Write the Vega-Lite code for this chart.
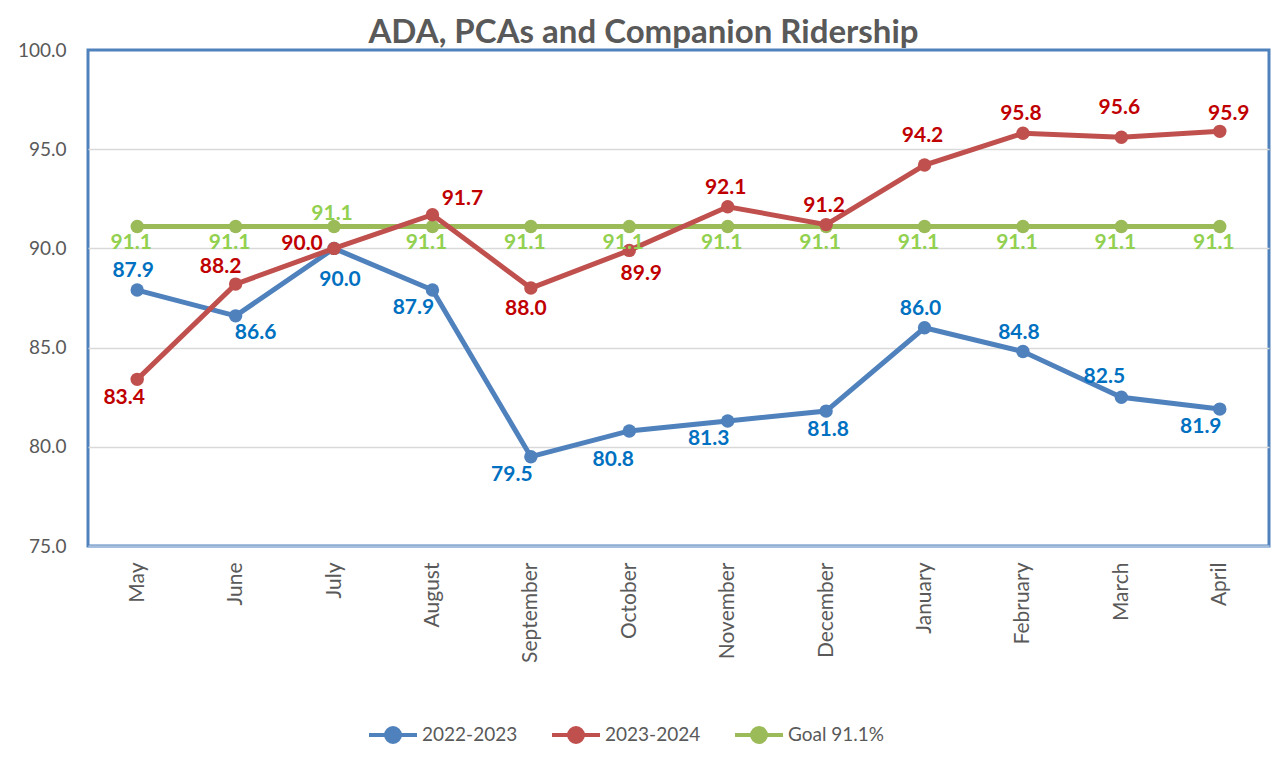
{
  "$schema": "https://vega.github.io/schema/vega-lite/v6.json",
  "width": 1181,
  "height": 496,
  "autosize": {"type": "none"},
  "padding": {"left": 88, "top": 50, "right": 6, "bottom": 227},
  "background": "white",
  "config": {"view": {"stroke": "#4F81BD", "strokeWidth": 3}, "font": "Lato"},
  "title": {"text": "ADA, PCAs and Companion Ridership", "font": "Lato", "fontSize": 33, "fontWeight": "bold", "color": "#595959", "anchor": "middle", "frame": "group", "dx": -35, "dy": 40, "offset": 5, "baseline": "alphabetic"},
  "data": {"values": [
    {"month": "May", "series": "2022-2023", "value": 87.9},
    {"month": "June", "series": "2022-2023", "value": 86.6},
    {"month": "July", "series": "2022-2023", "value": 90.0},
    {"month": "August", "series": "2022-2023", "value": 87.9},
    {"month": "September", "series": "2022-2023", "value": 79.5},
    {"month": "October", "series": "2022-2023", "value": 80.8},
    {"month": "November", "series": "2022-2023", "value": 81.3},
    {"month": "December", "series": "2022-2023", "value": 81.8},
    {"month": "January", "series": "2022-2023", "value": 86.0},
    {"month": "February", "series": "2022-2023", "value": 84.8},
    {"month": "March", "series": "2022-2023", "value": 82.5},
    {"month": "April", "series": "2022-2023", "value": 81.9},
    {"month": "May", "series": "2023-2024", "value": 83.4},
    {"month": "June", "series": "2023-2024", "value": 88.2},
    {"month": "July", "series": "2023-2024", "value": 90.0},
    {"month": "August", "series": "2023-2024", "value": 91.7},
    {"month": "September", "series": "2023-2024", "value": 88.0},
    {"month": "October", "series": "2023-2024", "value": 89.9},
    {"month": "November", "series": "2023-2024", "value": 92.1},
    {"month": "December", "series": "2023-2024", "value": 91.2},
    {"month": "January", "series": "2023-2024", "value": 94.2},
    {"month": "February", "series": "2023-2024", "value": 95.8},
    {"month": "March", "series": "2023-2024", "value": 95.6},
    {"month": "April", "series": "2023-2024", "value": 95.9},
    {"month": "May", "series": "Goal 91.1%", "value": 91.1},
    {"month": "June", "series": "Goal 91.1%", "value": 91.1},
    {"month": "July", "series": "Goal 91.1%", "value": 91.1},
    {"month": "August", "series": "Goal 91.1%", "value": 91.1},
    {"month": "September", "series": "Goal 91.1%", "value": 91.1},
    {"month": "October", "series": "Goal 91.1%", "value": 91.1},
    {"month": "November", "series": "Goal 91.1%", "value": 91.1},
    {"month": "December", "series": "Goal 91.1%", "value": 91.1},
    {"month": "January", "series": "Goal 91.1%", "value": 91.1},
    {"month": "February", "series": "Goal 91.1%", "value": 91.1},
    {"month": "March", "series": "Goal 91.1%", "value": 91.1},
    {"month": "April", "series": "Goal 91.1%", "value": 91.1}
  ]},
  "encoding": {
    "x": {"field": "month", "type": "ordinal",
      "sort": ["May", "June", "July", "August", "September", "October", "November", "December", "January", "February", "March", "April"],
      "scale": {"type": "point", "padding": 0.5},
      "axis": {"title": null, "labelAngle": -90, "labelFont": "Lato", "labelFontSize": 21, "labelColor": "#595959", "ticks": false, "labelPadding": 16, "domainColor": "#A7BFDE", "domainWidth": 2.5, "grid": false}},
    "y": {"field": "value", "type": "quantitative",
      "scale": {"domain": [75, 100], "nice": false, "zero": false},
      "axis": {"title": null, "values": [75, 80, 85, 90, 95, 100], "format": ".1f", "domain": false, "ticks": false, "labelPadding": 22, "labelFont": "Lato", "labelFontSize": 19, "labelColor": "#595959", "gridWidth": 1.5,
        "gridColor": {"condition": {"test": "datum.value === 75 || datum.value === 100", "value": "transparent"}, "value": "#D9D9D9"}}}
  },
  "layer": [
    {"transform": [{"filter": {"field": "series", "equal": "Goal 91.1%"}}],
     "mark": {"type": "line", "strokeWidth": 5, "point": {"type": "circle", "size": 180, "opacity": 1}},
     "encoding": {"color": {"field": "series", "type": "nominal",
       "scale": {"domain": ["2022-2023", "2023-2024", "Goal 91.1%"], "range": ["#4F81BD", "#C0504D", "#9BBB59"]},
       "legend": {"title": null, "orient": "none", "legendX": 279, "legendY": 659, "direction": "horizontal",
         "symbolType": "M-1,0L1,0M0.29,0A0.29,0.29 0 1,1 -0.29,0A0.29,0.29 0 1,1 0.29,0Z",
         "symbolSize": 2304, "symbolStrokeWidth": 4, "labelFont": "Lato", "labelFontSize": 19, "labelColor": "#595959",
         "labelOffset": 3, "columnPadding": 26, "padding": 0,
         "encode": {"symbols": {"update": {"fill": {"scale": "color", "field": "value"}, "opacity": {"value": 1}}}}}}}},
    {"transform": [{"filter": {"field": "series", "equal": "2022-2023"}}],
     "mark": {"type": "line", "strokeWidth": 5, "point": {"type": "circle", "size": 180, "opacity": 1}},
     "encoding": {"color": {"field": "series", "type": "nominal", "scale": {"domain": ["2022-2023", "2023-2024", "Goal 91.1%"], "range": ["#4F81BD", "#C0504D", "#9BBB59"]}}}},
    {"transform": [{"filter": {"field": "series", "equal": "2023-2024"}}],
     "mark": {"type": "line", "strokeWidth": 5, "point": {"type": "circle", "size": 180, "opacity": 1}},
     "encoding": {"color": {"field": "series", "type": "nominal", "scale": {"domain": ["2022-2023", "2023-2024", "Goal 91.1%"], "range": ["#4F81BD", "#C0504D", "#9BBB59"]}}}},

    {"transform": [{"filter": {"and": [{"field": "series", "equal": "2022-2023"}, {"field": "month", "oneOf": ["May", "January", "February"]}]}}],
     "mark": {"type": "text", "font": "Lato", "fontSize": 21, "fontWeight": "bold", "color": "#0070C0", "dx": -4, "dy": -19},
     "encoding": {"text": {"field": "value", "type": "quantitative", "format": ".1f"}}},
    {"transform": [{"filter": {"and": [{"field": "series", "equal": "2022-2023"}, {"field": "month", "oneOf": ["March"]}]}}],
     "mark": {"type": "text", "font": "Lato", "fontSize": 21, "fontWeight": "bold", "color": "#0070C0", "dx": -17, "dy": -20},
     "encoding": {"text": {"field": "value", "type": "quantitative", "format": ".1f"}}},
    {"transform": [{"filter": {"and": [{"field": "series", "equal": "2022-2023"}, {"field": "month", "oneOf": ["June"]}]}}],
     "mark": {"type": "text", "font": "Lato", "fontSize": 21, "fontWeight": "bold", "color": "#0070C0", "dx": 20, "dy": 17},
     "encoding": {"text": {"field": "value", "type": "quantitative", "format": ".1f"}}},
    {"transform": [{"filter": {"and": [{"field": "series", "equal": "2022-2023"}, {"field": "month", "oneOf": ["July"]}]}}],
     "mark": {"type": "text", "font": "Lato", "fontSize": 21, "fontWeight": "bold", "color": "#0070C0", "dx": 6, "dy": 32},
     "encoding": {"text": {"field": "value", "type": "quantitative", "format": ".1f"}}},
    {"transform": [{"filter": {"and": [{"field": "series", "equal": "2022-2023"}, {"field": "month", "oneOf": ["August", "September", "November", "April"]}]}}],
     "mark": {"type": "text", "font": "Lato", "fontSize": 21, "fontWeight": "bold", "color": "#0070C0", "dx": -19, "dy": 18},
     "encoding": {"text": {"field": "value", "type": "quantitative", "format": ".1f"}}},
    {"transform": [{"filter": {"and": [{"field": "series", "equal": "2022-2023"}, {"field": "month", "oneOf": ["October"]}]}}],
     "mark": {"type": "text", "font": "Lato", "fontSize": 21, "fontWeight": "bold", "color": "#0070C0", "dx": -16, "dy": 29},
     "encoding": {"text": {"field": "value", "type": "quantitative", "format": ".1f"}}},
    {"transform": [{"filter": {"and": [{"field": "series", "equal": "2022-2023"}, {"field": "month", "oneOf": ["December"]}]}}],
     "mark": {"type": "text", "font": "Lato", "fontSize": 21, "fontWeight": "bold", "color": "#0070C0", "dx": 2, "dy": 19},
     "encoding": {"text": {"field": "value", "type": "quantitative", "format": ".1f"}}},

    {"transform": [{"filter": {"and": [{"field": "series", "equal": "2023-2024"}, {"field": "month", "oneOf": ["May"]}]}}],
     "mark": {"type": "text", "font": "Lato", "fontSize": 21, "fontWeight": "bold", "color": "#C00000", "dx": -13, "dy": 19},
     "encoding": {"text": {"field": "value", "type": "quantitative", "format": ".1f"}}},
    {"transform": [{"filter": {"and": [{"field": "series", "equal": "2023-2024"}, {"field": "month", "oneOf": ["June"]}]}}],
     "mark": {"type": "text", "font": "Lato", "fontSize": 21, "fontWeight": "bold", "color": "#C00000", "dx": -15, "dy": -17},
     "encoding": {"text": {"field": "value", "type": "quantitative", "format": ".1f"}}},
    {"transform": [{"filter": {"and": [{"field": "series", "equal": "2023-2024"}, {"field": "month", "oneOf": ["July"]}]}}],
     "mark": {"type": "text", "font": "Lato", "fontSize": 21, "fontWeight": "bold", "color": "#C00000", "dx": -32, "dy": -4},
     "encoding": {"text": {"field": "value", "type": "quantitative", "format": ".1f"}}},
    {"transform": [{"filter": {"and": [{"field": "series", "equal": "2023-2024"}, {"field": "month", "oneOf": ["August"]}]}}],
     "mark": {"type": "text", "font": "Lato", "fontSize": 21, "fontWeight": "bold", "color": "#C00000", "dx": 30, "dy": -16},
     "encoding": {"text": {"field": "value", "type": "quantitative", "format": ".1f"}}},
    {"transform": [{"filter": {"and": [{"field": "series", "equal": "2023-2024"}, {"field": "month", "oneOf": ["September"]}]}}],
     "mark": {"type": "text", "font": "Lato", "fontSize": 21, "fontWeight": "bold", "color": "#C00000", "dx": -5, "dy": 21},
     "encoding": {"text": {"field": "value", "type": "quantitative", "format": ".1f"}}},
    {"transform": [{"filter": {"and": [{"field": "series", "equal": "2023-2024"}, {"field": "month", "oneOf": ["October"]}]}}],
     "mark": {"type": "text", "font": "Lato", "fontSize": 21, "fontWeight": "bold", "color": "#C00000", "dx": 12, "dy": 24},
     "encoding": {"text": {"field": "value", "type": "quantitative", "format": ".1f"}}},
    {"transform": [{"filter": {"and": [{"field": "series", "equal": "2023-2024"}, {"field": "month", "oneOf": ["November", "December", "February"]}]}}],
     "mark": {"type": "text", "font": "Lato", "fontSize": 21, "fontWeight": "bold", "color": "#C00000", "dx": -2, "dy": -19},
     "encoding": {"text": {"field": "value", "type": "quantitative", "format": ".1f"}}},
    {"transform": [{"filter": {"and": [{"field": "series", "equal": "2023-2024"}, {"field": "month", "oneOf": ["January", "March"]}]}}],
     "mark": {"type": "text", "font": "Lato", "fontSize": 21, "fontWeight": "bold", "color": "#C00000", "dx": -2, "dy": -29},
     "encoding": {"text": {"field": "value", "type": "quantitative", "format": ".1f"}}},
    {"transform": [{"filter": {"and": [{"field": "series", "equal": "2023-2024"}, {"field": "month", "oneOf": ["April"]}]}}],
     "mark": {"type": "text", "font": "Lato", "fontSize": 21, "fontWeight": "bold", "color": "#C00000", "dx": 9, "dy": -17},
     "encoding": {"text": {"field": "value", "type": "quantitative", "format": ".1f"}}},

    {"transform": [{"filter": {"and": [{"field": "series", "equal": "Goal 91.1%"}, {"field": "month", "oneOf": ["July"]}]}}],
     "mark": {"type": "text", "font": "Lato", "fontSize": 21, "fontWeight": "bold", "color": "#92D050", "dx": -2, "dy": -13},
     "encoding": {"text": {"field": "value", "type": "quantitative", "format": ".1f"}}},
    {"transform": [{"filter": {"and": [{"field": "series", "equal": "Goal 91.1%"}, {"not": {"field": "month", "oneOf": ["July"]}}]}}],
     "mark": {"type": "text", "font": "Lato", "fontSize": 21, "fontWeight": "bold", "color": "#92D050", "dx": -6, "dy": 16},
     "encoding": {"text": {"field": "value", "type": "quantitative", "format": ".1f"}}}
  ]
}
